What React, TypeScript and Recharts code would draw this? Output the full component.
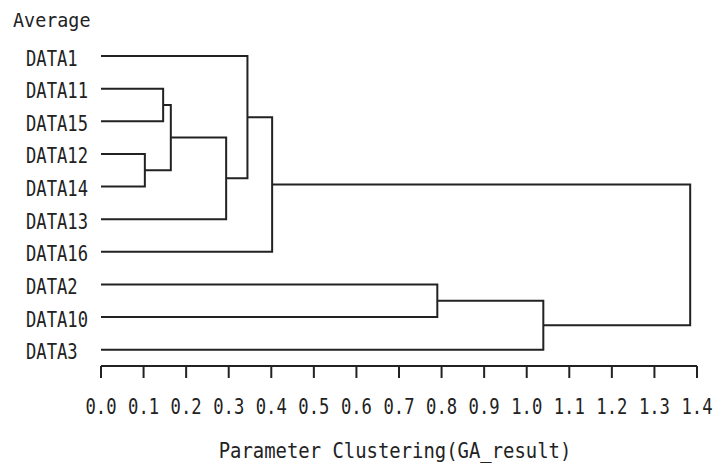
import { ComposedChart, Line, XAxis, YAxis, Label } from 'recharts'

const leaves = ['DATA1', 'DATA11', 'DATA15', 'DATA12', 'DATA14', 'DATA13', 'DATA16', 'DATA2', 'DATA10', 'DATA3']
// nodes 0-9 are the leaves above, node 10 + i is the cluster made by merge i
const mergeLeft = [1, 3, 10, 12, 0, 14, 7, 16, 15]
const mergeRight = [2, 4, 11, 5, 13, 6, 8, 9, 17]
const mergeHeight = [0.146, 0.103, 0.164, 0.294, 0.344, 0.402, 0.79, 1.039, 1.384]
const xTicks = [0, 0.1, 0.2, 0.3, 0.4, 0.5, 0.6, 0.7, 0.8, 0.9, 1.0, 1.1, 1.2, 1.3, 1.4]
const leafTicks = leaves.map((_, i) => i)

const FONT = '"DejaVu Sans Mono", monospace'
const INK = '#222'

type Pt = { x: number; y: number }

function buildLinks(): Pt[][] {
  const nodeY: number[] = leaves.map((_, i) => i)
  const nodeH: number[] = leaves.map(() => 0)
  const links: Pt[][] = []
  mergeLeft.forEach((l, i) => {
    const r = mergeRight[i]
    const h = mergeHeight[i]
    links.push([
      { x: nodeH[l], y: nodeY[l] },
      { x: h, y: nodeY[l] },
      { x: h, y: nodeY[r] },
      { x: nodeH[r], y: nodeY[r] },
    ])
    nodeY.push((nodeY[l] + nodeY[r]) / 2)
    nodeH.push(h)
  })
  return links
}

const links = buildLinks()

function ScaledText({ x, y, text, sx, size = 21, anchor = 'start' }: any) {
  return (
    <g transform={`translate(${x},${y}) scale(${sx},1)`}>
      <text x={0} y={0} textAnchor={anchor} fontFamily={FONT} fontSize={size} fill={INK}>
        {text}
      </text>
    </g>
  )
}

function XTick({ x, y, payload }: any) {
  return <ScaledText x={x} y={y + 34} text={Number(payload.value).toFixed(1)} sx={0.82} anchor="middle" />
}

function YTick({ y, payload }: any) {
  return <ScaledText x={26} y={y + 9.5} text={leaves[payload.value]} sx={0.78} size={22} />
}

export default function App() {
  return (
    <div style={{ position: 'absolute', left: 0, top: 0, background: '#fff' }}>
      <ComposedChart width={717} height={463} margin={{ top: 56, right: 20, bottom: 0, left: 0 }}>
        <XAxis
          type="number"
          dataKey="x"
          domain={[0, 1.4]}
          ticks={xTicks}
          interval={0}
          allowDataOverflow
          height={97}
          tickSize={12}
          axisLine={{ stroke: INK, strokeWidth: 2 }}
          tickLine={{ stroke: INK, strokeWidth: 2 }}
          tick={XTick}
        >
          <Label
            content={({ viewBox }: any) => (
              <ScaledText
                x={viewBox.x + viewBox.width / 2 - 4}
                y={viewBox.y + 92}
                text="Parameter Clustering(GA_result)"
                sx={0.9}
                anchor="middle"
              />
            )}
          />
        </XAxis>
        <YAxis
          type="number"
          domain={[0, 9.5]}
          reversed
          ticks={leafTicks}
          interval={0}
          width={101}
          axisLine={false}
          tickLine={false}
          tick={YTick}
        >
          <Label content={() => <ScaledText x={13} y={27} text="Average" sx={0.92} size={20} />} />
        </YAxis>
        {links.map((pts, i) => (
          <Line
            key={i}
            data={pts}
            dataKey="y"
            type="linear"
            stroke={INK}
            strokeWidth={2}
            dot={false}
            activeDot={false}
            isAnimationActive={false}
          />
        ))}
      </ComposedChart>
    </div>
  )
}
